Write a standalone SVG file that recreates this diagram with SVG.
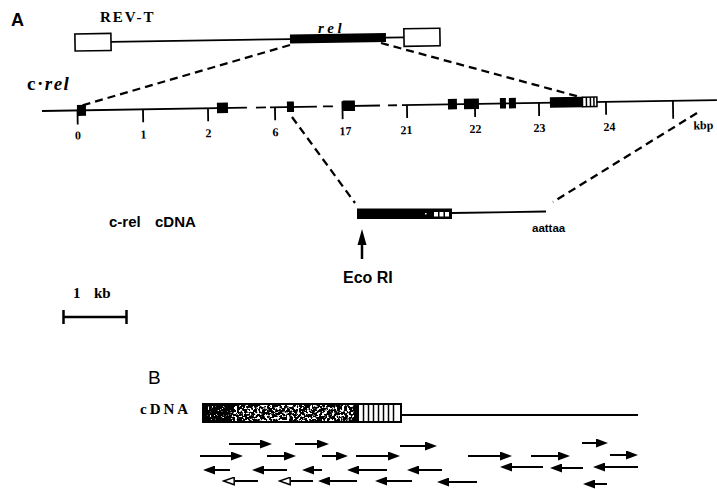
<svg xmlns="http://www.w3.org/2000/svg" width="717" height="489" viewBox="0 0 717 489">
<style>
.ln{stroke:#000;stroke-width:1.8;fill:none}
.dsh{stroke:#000;stroke-width:2.3;fill:none;stroke-dasharray:8 5}
.blk{fill:#000}
.box{fill:#fff;stroke:#000;stroke-width:1.6}
.tk{stroke:#000;stroke-width:1.8}
.num{font-family:"Liberation Serif","DejaVu Serif",serif;font-weight:bold;font-size:12px;text-anchor:middle}
.sans{font-family:"Liberation Sans",Arial,sans-serif;font-weight:bold}
.serif{font-family:"Liberation Serif","DejaVu Serif",serif;font-weight:bold}
.ar{stroke:#000;stroke-width:2;fill:none;marker-end:url(#ah)}
.aro{stroke:#000;stroke-width:2;fill:none;marker-end:url(#aho)}
.hl{stroke:#000;stroke-width:1.5}
</style>
<defs>
<marker id="ah" markerUnits="userSpaceOnUse" markerWidth="13" markerHeight="9" refX="0" refY="4.5" orient="auto"><path d="M0,0 L12,4.5 L0,9 z" fill="#000"/></marker>
<marker id="aho" markerUnits="userSpaceOnUse" markerWidth="13" markerHeight="9" refX="0" refY="4.5" orient="auto"><path d="M0.8,0.8 L11.5,4.5 L0.8,8.2 z" fill="#fff" stroke="#000" stroke-width="1.5"/></marker>
<filter id="spk" x="0" y="0" width="1" height="1">
<feTurbulence type="fractalNoise" baseFrequency="0.4" numOctaves="2" seed="4" result="n"/>
<feColorMatrix in="n" type="matrix" values="0 0 0 0 1 0 0 0 0 1 0 0 0 0 1 12 0 0 0 -6.1"/>
</filter>
<filter id="spk2" x="0" y="0" width="1" height="1">
<feTurbulence type="fractalNoise" baseFrequency="0.6" numOctaves="2" seed="9" result="n"/>
<feColorMatrix in="n" type="matrix" values="0 0 0 0 1 0 0 0 0 1 0 0 0 0 1 12 0 0 0 -7.6"/>
</filter>
</defs>

<text class="sans" x="11" y="26" font-size="18">A</text>

<g id="revt">
<text class="serif" x="100" y="22" font-size="15" letter-spacing="2">REV-T</text>
<text class="serif" x="318" y="33" font-size="15" font-style="italic" letter-spacing="3.5">rel</text>
<g transform="rotate(-0.9 75 42)">
<rect class="box" x="75" y="34" width="36" height="17"/>
<line class="ln" x1="111" y1="42.5" x2="290" y2="42.5"/>
<rect class="blk" x="290" y="38" width="96" height="9"/>
<line class="ln" x1="386" y1="42.5" x2="404" y2="42.5"/>
<rect class="box" x="404" y="34" width="36" height="17.5"/>
</g>
</g>

<g id="crel">
<text class="serif" x="27" y="90" font-size="19" letter-spacing="1.5">c·<tspan font-style="italic">rel</tspan></text>
<g transform="rotate(-0.93 42 111)">
<line class="ln" x1="42" y1="111" x2="247" y2="111"/>
<line class="ln" x1="256" y1="111" x2="266" y2="111"/>
<line class="ln" x1="270" y1="111" x2="317" y2="111"/>
<line class="ln" x1="323" y1="111" x2="333" y2="111"/>
<line class="ln" x1="342" y1="111" x2="380" y2="111"/>
<line class="ln" x1="388" y1="111" x2="397" y2="111"/>
<line class="ln" x1="402" y1="111" x2="717" y2="111"/>
<line class="tk" x1="77.5" y1="111" x2="77.5" y2="125"/>
<line class="tk" x1="143" y1="111" x2="143" y2="124"/>
<line class="tk" x1="208" y1="111" x2="208" y2="124"/>
<line class="tk" x1="275" y1="111" x2="275" y2="124"/>
<line class="tk" x1="342.5" y1="106" x2="342.5" y2="124"/>
<line class="tk" x1="407" y1="111" x2="407" y2="124"/>
<line class="tk" x1="475" y1="111" x2="475" y2="124"/>
<line class="tk" x1="539" y1="111" x2="539" y2="124"/>
<line class="tk" x1="606" y1="111" x2="606" y2="124"/>
<line class="tk" x1="673" y1="111" x2="673" y2="129"/>
<rect class="blk" x="77" y="105.5" width="9" height="11"/>
<rect class="blk" x="217" y="105.5" width="11" height="10.5"/>
<rect class="blk" x="287" y="105.5" width="7" height="10.5"/>
<rect class="blk" x="343" y="105.5" width="12" height="10.5"/>
<rect class="blk" x="448" y="105.5" width="9" height="10.5"/>
<rect class="blk" x="464" y="105.5" width="15" height="10.5"/>
<rect class="blk" x="500" y="105.5" width="6" height="10.5"/>
<rect class="blk" x="509" y="105.5" width="7" height="10.5"/>
<rect class="blk" x="550" y="105.5" width="33" height="10.5"/>
<rect class="box" x="582.5" y="106" width="14.5" height="9.5" stroke-width="1.5"/>
<line class="hl" x1="586.5" y1="106" x2="586.5" y2="115.5"/>
<line class="hl" x1="590.5" y1="106" x2="590.5" y2="115.5"/>
<line class="hl" x1="594" y1="106" x2="594" y2="115.5"/>
<text class="num" x="77.5" y="140">0</text>
<text class="num" x="143" y="140">1</text>
<text class="num" x="208" y="140">2</text>
<text class="num" x="275" y="140">6</text>
<text class="num" x="345" y="140">17</text>
<text class="num" x="406" y="140">21</text>
<text class="num" x="475" y="140">22</text>
<text class="num" x="539" y="140">23</text>
<text class="num" x="609" y="140">24</text>
<text class="serif" x="693" y="140" font-size="12">kbp</text>
</g>
</g>

<g id="cdnaA">
<text class="sans" x="109" y="227" font-size="15">c-rel<tspan x="155">cDNA</tspan></text>
<rect class="blk" x="357" y="208.5" width="95" height="10.5"/>
<rect x="434" y="212" width="4" height="4.5" fill="#fff"/>
<rect x="439.5" y="212" width="4" height="4.5" fill="#fff"/>
<rect x="445" y="212" width="4" height="4.5" fill="#fff"/>
<rect x="425" y="213" width="1.5" height="1.5" fill="#fff"/>
<line class="ln" x1="452" y1="213" x2="546" y2="211.5" stroke-width="1.6"/>
<text class="sans" x="532" y="232" font-size="11.5">aattaa</text>
</g>

<g id="ecori">
<line x1="362" y1="244" x2="362" y2="259" stroke="#000" stroke-width="2.5"/>
<polygon points="362,229 357.5,245 366.5,245" fill="#000"/>
<text class="sans" x="343" y="283" font-size="16">Eco RI</text>
</g>

<g id="scale">
<text class="serif" x="73" y="298" font-size="15">1<tspan x="94">kb</tspan></text>
<line x1="63" y1="317" x2="127" y2="317" stroke="#000" stroke-width="2.5"/>
<line x1="63.5" y1="310" x2="63.5" y2="324" stroke="#000" stroke-width="2.5"/>
<line x1="126.5" y1="310" x2="126.5" y2="324" stroke="#000" stroke-width="2.5"/>
</g>

<g id="connectors">
<path class="dsh" d="M290,45 L80,106"/>
<path class="dsh" d="M381,43 L580,97"/>
<path class="dsh" d="M292,117 L355,203"/>
<path class="dsh" d="M697,113 L553,202"/>
</g>

<text x="148" y="384" font-size="19" style="font-family:'Liberation Sans',Arial,sans-serif;font-weight:normal">B</text>
<g id="cdnaB">
<text class="serif" x="140" y="414" font-size="15" letter-spacing="3">cDNA</text>
<rect class="blk" x="202" y="403" width="200" height="20"/>
<rect x="232" y="405.5" width="122" height="15" fill="#000" filter="url(#spk)"/>
<rect x="207" y="406" width="26" height="14" fill="#000" filter="url(#spk2)"/>
<rect x="359" y="405" width="41" height="16" fill="#fff"/>
<line class="hl" x1="363.5" y1="405" x2="363.5" y2="421"/>
<line class="hl" x1="368.5" y1="405" x2="368.5" y2="421"/>
<line class="hl" x1="373.5" y1="405" x2="373.5" y2="421"/>
<line class="hl" x1="378.5" y1="405" x2="378.5" y2="421"/>
<line class="hl" x1="383.5" y1="405" x2="383.5" y2="421"/>
<line class="hl" x1="388.5" y1="405" x2="388.5" y2="421"/>
<line class="hl" x1="393.5" y1="405" x2="393.5" y2="421"/>
<line class="ln" x1="402" y1="415" x2="638" y2="415" stroke-width="1.6"/>
</g>

<g id="arrows">
<line class="ar" x1="229" y1="444" x2="260" y2="444"/>
<line class="ar" x1="295" y1="444" x2="317" y2="444"/>
<line class="ar" x1="400" y1="446" x2="425" y2="446"/>
<line class="ar" x1="582" y1="443" x2="596" y2="443"/>
<line class="ar" x1="200" y1="456" x2="231" y2="456"/>
<line class="ar" x1="267" y1="456" x2="284" y2="456"/>
<line class="ar" x1="322" y1="456" x2="336" y2="456"/>
<line class="ar" x1="356" y1="456" x2="388" y2="456"/>
<line class="ar" x1="468" y1="456" x2="500" y2="456"/>
<line class="ar" x1="531" y1="456" x2="558" y2="456"/>
<line class="ar" x1="610" y1="455" x2="626" y2="455"/>
<line class="ar" x1="230" y1="470" x2="215" y2="470"/>
<line class="ar" x1="287" y1="470" x2="264" y2="470"/>
<line class="ar" x1="322" y1="470" x2="314" y2="470"/>
<line class="ar" x1="387" y1="470" x2="359" y2="470"/>
<line class="ar" x1="442" y1="470" x2="419" y2="470"/>
<line class="ar" x1="543" y1="467" x2="512" y2="467"/>
<line class="ar" x1="583" y1="468" x2="562" y2="468"/>
<line class="ar" x1="638" y1="467" x2="605" y2="467"/>
<line class="aro" x1="258" y1="481" x2="235" y2="481"/>
<line class="aro" x1="313" y1="481" x2="291" y2="481"/>
<line class="ar" x1="357" y1="481" x2="330" y2="481"/>
<line class="ar" x1="412" y1="481" x2="387" y2="481"/>
<line class="ar" x1="477" y1="482" x2="449" y2="482"/>
<line class="ar" x1="607" y1="484" x2="595" y2="484"/>
</g>
</svg>
